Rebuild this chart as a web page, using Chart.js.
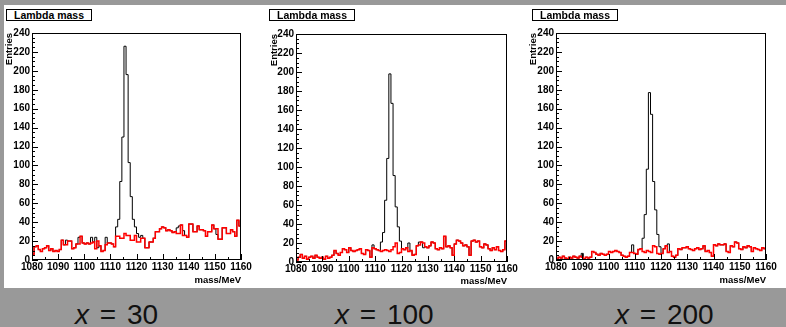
<!DOCTYPE html>
<html>
<head>
<meta charset="utf-8">
<script src="https://cdn.jsdelivr.net/npm/chart.js@4.4.0/dist/chart.umd.min.js"></script>
<style>
  html, body { margin: 0; padding: 0; }
  body { width: 786px; height: 327px; background: #999999; position: relative; overflow: hidden;
         font-family: "Liberation Sans", Arial, sans-serif; }
  #sheet { position: absolute; left: 4px; top: 5px; width: 782px; height: 283px; background: #fff; }
  .panel { position: absolute; top: 5px; height: 283px; }
  .panel canvas { display: block; }
  .title { position: absolute; top: 9px; height: 12px; box-sizing: border-box; border: 1px solid #000;
           background: #fff; font-weight: bold; font-size: 10.5px; line-height: 10px; text-align: center; color: #000; }
  .caption { position: absolute; top: 301px; font-size: 28px; line-height: 28px; color: #111;
             word-spacing: 3px; white-space: nowrap; }
</style>
</head>
<body>
<div id="sheet"></div>
<div class="panel" style="left:4px;width:258px"><canvas id="c30" width="258" height="283"></canvas></div>
<div class="panel" style="left:262px;width:262px"><canvas id="c100" width="262" height="283"></canvas></div>
<div class="panel" style="left:524px;width:262px"><canvas id="c200" width="262" height="283"></canvas></div>
<div class="title" style="left:6px;width:86px">Lambda mass</div>
<div class="title" style="left:269px;width:86px">Lambda mass</div>
<div class="title" style="left:532px;width:86px">Lambda mass</div>
<div class="caption" style="left:75px"><i>x</i> = 30</div>
<div class="caption" style="left:335px"><i>x</i> = 100</div>
<div class="caption" style="left:615px"><i>x</i> = 200</div>
<script>
// 100 bins of 0.8 MeV between 1080 and 1160
const massLow = 1080;
const massHigh = 1160;
const binWidth = 0.8;

// x = 30 : all candidates (black) and background estimate (red)
const total30 = [
  6, 14, 15, 11, 9, 12, 13, 15, 10, 12,
  9, 10, 9, 11, 21, 16, 21, 20, 20, 12,
  13, 17, 24, 25, 18, 17, 18, 17, 24, 19,
  24, 13, 15, 9, 10, 24, 18, 18, 17, 14,
  35, 43, 83, 130, 226, 196, 103, 67, 43, 35,
  28, 24, 26, 23, 13, 13, 19, 19, 23, 30,
  30, 33, 35, 34, 31, 32, 31, 29, 30, 34,
  36, 37, 31, 26, 24, 38, 38, 30, 30, 36,
  32, 32, 31, 25, 30, 30, 37, 33, 27, 22,
  22, 34, 34, 28, 28, 32, 30, 25, 42, 36
];
const bkg30 = [
  6, 14, 15, 11, 9, 12, 13, 15, 10, 12,
  9, 10, 9, 11, 21, 16, 16, 20, 20, 12,
  13, 17, 17, 25, 18, 17, 18, 17, 18, 19,
  12, 20, 15, 9, 10, 16, 18, 18, 17, 14,
  25, 25, 23, 23, 28, 26, 26, 21, 21, 26,
  19, 19, 23, 23, 13, 13, 19, 19, 23, 30,
  30, 33, 35, 34, 31, 32, 31, 29, 30, 28,
  28, 37, 26, 26, 24, 38, 38, 30, 30, 36,
  32, 32, 31, 25, 30, 30, 37, 33, 33, 22,
  22, 34, 34, 28, 28, 32, 30, 25, 42, 36
];

// x = 100
const total100 = [
  2, 5, 8, 4, 6, 3, 5, 6, 4, 7,
  5, 4, 5, 3, 6, 4, 5, 7, 12, 9,
  7, 10, 14, 13, 10, 15, 12, 11, 12, 13,
  14, 9, 8, 13, 12, 5, 18, 14, 13, 12,
  21, 31, 65, 109, 198, 167, 91, 58, 37, 22,
  14, 13, 15, 20, 12, 7, 8, 17, 21, 21,
  15, 16, 15, 17, 21, 20, 14, 13, 15, 14,
  27, 16, 17, 15, 7, 19, 23, 22, 20, 17,
  18, 16, 7, 22, 23, 21, 22, 16, 15, 19,
  18, 14, 12, 15, 13, 16, 12, 11, 13, 22
];
const bkg100 = [
  2, 5, 8, 4, 6, 3, 5, 6, 4, 7,
  5, 4, 5, 3, 6, 4, 5, 7, 12, 9,
  7, 10, 14, 13, 10, 15, 12, 11, 12, 13,
  14, 9, 8, 13, 12, 5, 15, 14, 13, 12,
  11, 12, 13, 12, 11, 13, 16, 20, 9, 10,
  14, 13, 15, 11, 12, 7, 8, 17, 18, 21,
  20, 16, 15, 17, 21, 20, 14, 13, 15, 14,
  27, 16, 17, 15, 7, 19, 23, 22, 20, 17,
  18, 16, 7, 22, 23, 21, 22, 16, 15, 19,
  18, 14, 12, 15, 13, 16, 12, 11, 13, 22
];

// x = 200
const total200 = [
  1, 3, 2, 4, 2, 1, 3, 2, 4, 3,
  2, 4, 7, 1, 3, 2, 3, 9, 8, 6,
  5, 7, 6, 5, 6, 9, 8, 9, 10, 9,
  8, 5, 4, 3, 4, 8, 16, 7, 6, 11,
  12, 23, 48, 96, 177, 154, 83, 53, 27, 14,
  7, 12, 15, 17, 9, 4, 3, 5, 12, 11,
  13, 13, 14, 12, 11, 10, 12, 13, 11, 12,
  15, 9, 10, 8, 4, 16, 15, 17, 16, 16,
  17, 9, 8, 15, 14, 19, 18, 12, 11, 14,
  13, 15, 14, 9, 13, 12, 11, 10, 13, 12
];
const bkg200 = [
  1, 3, 2, 4, 2, 1, 3, 2, 4, 3,
  2, 4, 3, 1, 3, 2, 3, 9, 8, 6,
  5, 7, 6, 5, 6, 9, 8, 9, 10, 9,
  8, 5, 4, 3, 4, 8, 8, 7, 6, 11,
  12, 9, 8, 10, 9, 8, 15, 14, 7, 6,
  7, 12, 15, 8, 9, 4, 3, 5, 12, 11,
  13, 13, 14, 12, 11, 10, 12, 13, 11, 12,
  15, 9, 10, 8, 4, 16, 15, 17, 16, 16,
  17, 9, 8, 15, 14, 19, 18, 12, 11, 14,
  13, 15, 14, 9, 13, 12, 11, 10, 13, 12
];

const yMax = 240;
const yStep = 20;
const xStep = 10;

// histogram outline: rise at the first edge, then one step per bin
function toSteps(values) {
  const pts = [{ x: massLow, y: 0 }];
  values.forEach((v, i) => pts.push({ x: massLow + i * binWidth, y: v }));
  pts.push({ x: massHigh, y: values[values.length - 1] });
  return pts;
}

// ROOT style frame with inward ticks
const frameTicks = {
  id: "frameTicks",
  afterDraw(chart) {
    const { ctx, chartArea: a, scales: { x, y } } = chart;
    ctx.save();
    ctx.strokeStyle = "#000";
    ctx.lineWidth = 1;
    ctx.beginPath();
    for (let v = 0; v <= yMax; v += 5) {
      const py = Math.round(y.getPixelForValue(v)) + 0.5;
      const len = v % yStep === 0 ? 6 : 3;
      ctx.moveTo(a.left, py);
      ctx.lineTo(a.left + len, py);
    }
    for (let v = massLow; v <= massHigh; v += 5) {
      const px = Math.round(x.getPixelForValue(v)) + 0.5;
      const len = v % xStep === 0 ? 6 : 3;
      ctx.moveTo(px, a.bottom);
      ctx.lineTo(px, a.bottom - len);
    }
    ctx.stroke();
    ctx.strokeRect(Math.round(a.left) + 0.5, Math.round(a.top) + 0.5,
                   Math.round(a.width) - 1, Math.round(a.height) - 1);
    ctx.restore();
  }
};

const tickFont = { family: "Liberation Sans", size: 10, weight: "bold" };
const titleFont = { family: "Liberation Sans", size: 9.5, weight: "bold" };

const panels = [
  { id: "c30", total: total30, bkg: bkg30,
    pad: { left: 0, top: 28, right: 21, bottom: 0 }, yWidth: 28, xHeight: 28, xTitlePad: 2 },
  { id: "c100", total: total100, bkg: bkg100,
    pad: { left: 7, top: 29, right: 17, bottom: 0 }, yWidth: 27, xHeight: 26, xTitlePad: 1 },
  { id: "c200", total: total200, bkg: bkg200,
    pad: { left: 4, top: 28, right: 20, bottom: 0 }, yWidth: 28, xHeight: 28, xTitlePad: 2 }
];

panels.forEach((p) => {
  new Chart(document.getElementById(p.id), {
    type: "line",
    data: {
      datasets: [
        {
          label: "background",
          data: toSteps(p.bkg),
          borderColor: "#ff0000",
          borderWidth: 1.5,
          stepped: true,
          pointRadius: 0,
          fill: false,
          order: 0
        },
        {
          label: "Lambda candidates",
          data: toSteps(p.total),
          borderColor: "#000000",
          borderWidth: 1,
          stepped: true,
          pointRadius: 0,
          fill: false,
          order: 1
        }
      ]
    },
    options: {
      responsive: false,
      animation: false,
      layout: { padding: p.pad },
      plugins: { legend: { display: false }, tooltip: { enabled: false } },
      scales: {
        x: {
          type: "linear",
          min: massLow,
          max: massHigh,
          grid: { display: false, drawTicks: false },
          border: { display: false },
          ticks: { stepSize: xStep, autoSkip: false, maxRotation: 0, padding: 1,
                   font: tickFont, color: "#000", callback: (v) => String(v) },
          title: { display: true, text: "mass/MeV", align: "end", font: titleFont,
                   color: "#000", padding: { top: 0, bottom: p.xTitlePad } },
          afterFit: (s) => { s.height = p.xHeight; }
        },
        y: {
          min: 0,
          max: yMax,
          grid: { display: false, drawTicks: false },
          border: { display: false },
          ticks: { stepSize: yStep, autoSkip: false, padding: 2, font: tickFont, color: "#000",
                   callback: (v) => String(v) },
          title: { display: true, text: "Entries", align: "end", font: titleFont,
                   color: "#000", padding: 0 },
          afterFit: (s) => { s.width = p.yWidth; }
        }
      }
    },
    plugins: [frameTicks]
  });
});
</script>
</body>
</html>
